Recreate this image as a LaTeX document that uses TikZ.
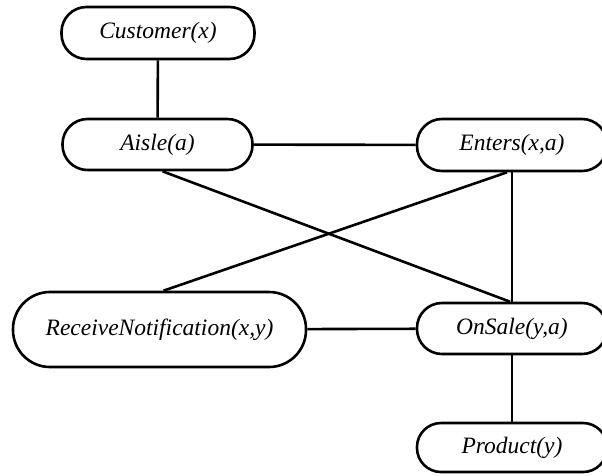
\documentclass[tikz,border=0pt]{standalone}
\usepackage{fontspec}
\setmainfont{Liberation Serif}
\begin{document}
\begin{tikzpicture}[x=1pt,y=-1pt,
  pred/.style={draw, line width=2.6pt, rounded corners=25pt, rectangle,
    minimum width=190pt, minimum height=51pt, inner sep=0pt,
    font=\fontsize{23.5}{28}\selectfont\itshape},
  link/.style={line width=2.6pt}]
\clip (0,0) rectangle (602,475);
\fill[white] (0,0) rectangle (602,475);
\node[pred, minimum width=193pt, minimum height=52pt] (cust) at (158,33) {Customer(x)};
\node[pred] (aisle) at (157.5,144.5) {Aisle(a)};
\node[pred, minimum height=52pt] (enters) at (512,145) {Enters(x,a)};
\node[pred, minimum width=293pt, minimum height=75pt, rounded corners=37pt] (recv) at (159.5,329.5) {ReceiveNotification(x,y)};
\node[pred] (onsale) at (512,328.5) {OnSale(y,a)};
\node[pred, minimum height=49pt, rounded corners=24pt] (prod) at (512,447.5) {Product(y)};
\draw[link] (cust) -- (aisle);
\draw[link] (aisle) -- (enters);
\draw[link] ([xshift=5pt]aisle.south) -- ([xshift=-2pt]onsale.north);
\draw[link] ([xshift=-5pt]enters.south) -- ([xshift=4pt]recv.north);
\draw[link] (enters.south) -- (onsale.north);
\draw[link] (recv) -- (onsale);
\draw[link] (onsale) -- (prod);
\end{tikzpicture}
\end{document}
